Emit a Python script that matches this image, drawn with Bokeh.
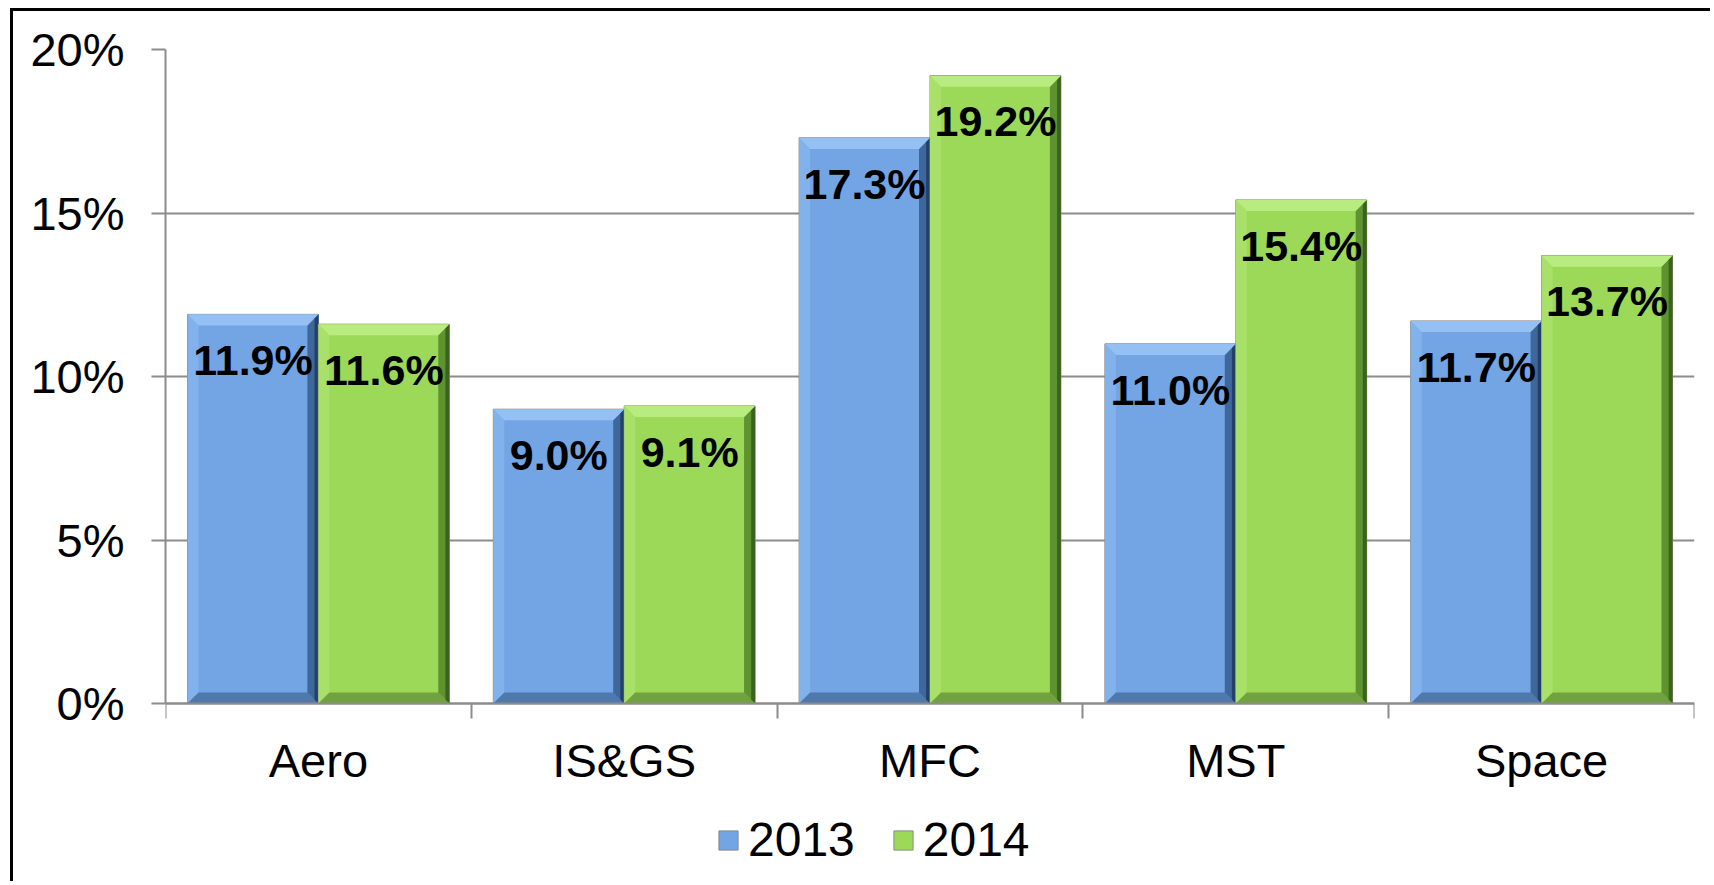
import numpy as np
from bokeh.plotting import figure
from bokeh.models import (ColumnDataSource, FixedTicker, NumeralTickFormatter,
                          Range1d, Legend, LegendItem, LinearAxis)
from bokeh.embed import file_html
from bokeh.resources import INLINE
from bokeh.core.properties import value

categories = ["Aero", "IS&GS", "MFC", "MST", "Space"]
v2013 = [0.119, 0.090, 0.173, 0.110, 0.117]
v2014 = [0.116, 0.091, 0.192, 0.154, 0.137]
years = ["2013", "2014"]
y_ticks = [0.0, 0.05, 0.10, 0.15, 0.20]

FONT = value("Liberation Sans")
GRID = "#8c8c8c"

# layout: frame spans 835 px, of which 654 px cover 0..20%
frame_h, plot_h = 835, 654
y_top = 0.20
y_bottom = y_top - y_top * frame_h / plot_h

p = figure(width=1700, height=873, output_backend="svg", toolbar_location=None,
           x_range=Range1d(0, 5), y_range=Range1d(y_bottom, y_top),
           x_axis_location=None,
           min_border_left=152, min_border_right=19, min_border_top=38,
           min_border_bottom=0, outline_line_color=None,
           background_fill_color="white", border_fill_color="white")
p.styles = {"border-left": "3px solid black", "border-top": "3px solid black",
            "margin-left": "10px", "margin-top": "8px"}

series = [
    (v2013, -0.214, dict(face="#73a5e5", top="#94c0f4", left="#82b2ec",
                         right="#3f6799", right2="#22406a", bottom="#4f78ad")),
    (v2014, 0.214, dict(face="#9cd959", top="#b8ec80", left="#a8e06a",
                        right="#5f9230", right2="#3a6320", bottom="#71a23f")),
]
width = 0.428
dx = 0.036
dy = 0.0034

legend_items = []
for (vals, off, col), yr in zip(series, years):
    xs = np.arange(len(categories)) + 0.5 + off
    src = ColumnDataSource(dict(x=xs, top=vals, cat=categories))
    face = p.vbar(x="x", top="top", bottom=0, width=width, source=src,
                  fill_color=col["face"], line_color="#8a8a8a", line_width=1)
    legend_items.append(LegendItem(label=yr, renderers=[face]))
    tops_x, tops_y, lefts_x, lefts_y = [], [], [], []
    rights_x, rights_y, r2_x, r2_y, bots_x, bots_y = [], [], [], [], [], []
    for x, v in zip(xs, vals):
        x0, x1 = x - width / 2, x + width / 2
        tops_x.append([x0, x1, x1 - dx, x0 + dx]); tops_y.append([v, v, v - dy, v - dy])
        lefts_x.append([x0, x0, x0 + dx, x0 + dx]); lefts_y.append([0, v, v - dy, dy])
        rights_x.append([x1, x1, x1 - dx, x1 - dx]); rights_y.append([0, v, v - dy, dy])
        r2_x.append([x1, x1, x1 - dx * 0.35, x1 - dx * 0.35]); r2_y.append([0, v, v - dy * 0.35, dy * 0.35])
        bots_x.append([x0, x1, x1 - dx, x0 + dx]); bots_y.append([0, 0, dy, dy])
    p.patches(lefts_x, lefts_y, fill_color=col["left"], line_color=None)
    p.patches(bots_x, bots_y, fill_color=col["bottom"], line_color=None)
    p.patches(rights_x, rights_y, fill_color=col["right"], line_color=None)
    p.patches(r2_x, r2_y, fill_color=col["right2"], line_color=None)
    p.patches(tops_x, tops_y, fill_color=col["top"], line_color=None)
    lab = ColumnDataSource(dict(x=xs, y=np.array(vals) - 0.0140,
                                t=[f"{v * 100:.1f}%" for v in vals]))
    p.text(x="x", y="y", text="t", source=lab, text_font=FONT,
           text_font_style="bold", text_font_size="43px", text_color="black",
           text_align="center", text_baseline="middle")

# x axis fixed at 0
xaxis = LinearAxis(fixed_location=0,
                   ticker=FixedTicker(ticks=list(np.arange(len(categories)) + 0.5),
                                      minor_ticks=list(range(len(categories) + 1))))
xaxis.major_label_overrides = {float(i + 0.5): c for i, c in enumerate(categories)}
xaxis.major_tick_out = 0
xaxis.major_tick_in = 0
xaxis.minor_tick_out = 15
xaxis.minor_tick_in = 0
xaxis.minor_tick_line_color = GRID
xaxis.minor_tick_line_width = 2
xaxis.axis_line_color = GRID
xaxis.axis_line_width = 2
xaxis.major_label_text_font = "Liberation Sans"
xaxis.major_label_text_font_size = "47px"
xaxis.major_label_text_color = "black"
xaxis.major_label_standoff = 15
p.add_layout(xaxis, "below")

p.yaxis.ticker = FixedTicker(ticks=y_ticks)
p.yaxis.bounds = (0, y_top)
p.yaxis.formatter = NumeralTickFormatter(format="0%")
p.yaxis.major_tick_out = 14
p.yaxis.major_tick_in = 0
p.yaxis.minor_tick_line_color = None
p.yaxis.major_tick_line_color = GRID
p.yaxis.major_tick_line_width = 2
p.yaxis.axis_line_color = GRID
p.yaxis.axis_line_width = 2
p.yaxis.major_label_text_font = "Liberation Sans"
p.yaxis.major_label_text_font_size = "47px"
p.yaxis.major_label_text_color = "black"
p.yaxis.major_label_standoff = 27

p.xgrid.grid_line_color = None
p.ygrid.ticker = FixedTicker(ticks=y_ticks)
p.ygrid.grid_line_color = GRID
p.ygrid.grid_line_width = 2

legend = Legend(items=legend_items, orientation="horizontal",
                location=(551, 17), label_text_font="Liberation Sans",
                label_text_font_size="48px", label_text_color="black",
                glyph_width=24, glyph_height=24,
                label_standoff=8, spacing=36, padding=0, margin=0,
                border_line_color=None, background_fill_alpha=0,
                label_height=24)
p.add_layout(legend, "center")

open("out.html", "w").write(file_html(p, INLINE))
